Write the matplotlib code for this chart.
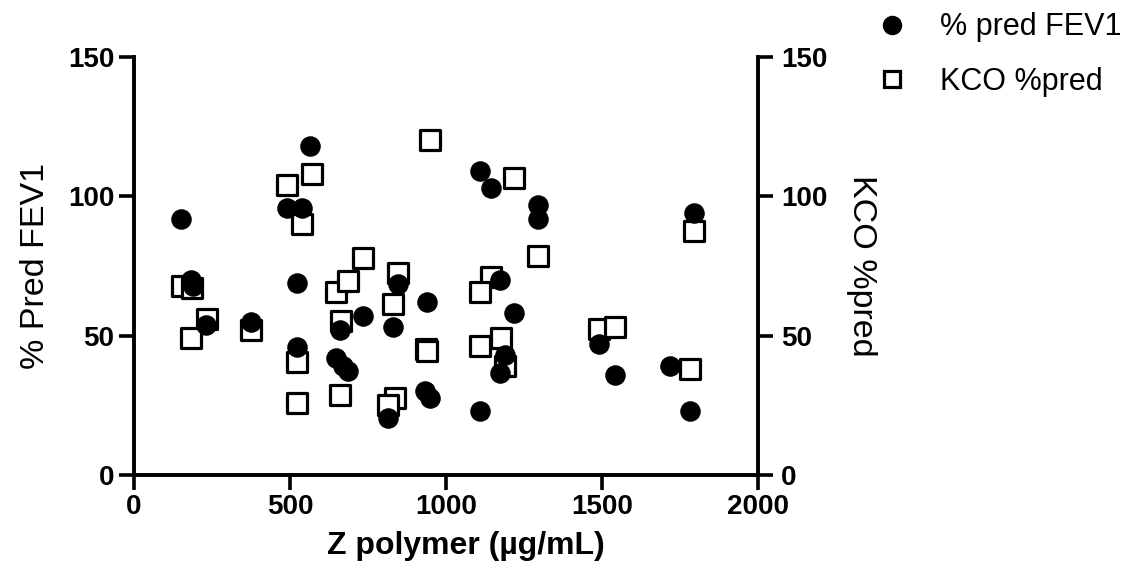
import matplotlib
matplotlib.use("Agg")
import matplotlib.pyplot as plt
from matplotlib.lines import Line2D

plt.rcParams['font.family'] = ['Liberation Sans', 'DejaVu Sans']

# % predicted FEV1 (left axis)
fev_x = [150, 182, 190, 230, 374, 489, 540, 565, 521, 521, 649, 661, 670, 687,
         735, 830, 847, 940, 933, 948, 815, 1109, 1144, 1294, 1294, 1173, 1217,
         1188, 1173, 1109, 1492, 1543, 1719, 1783, 1796]
fev_y = [92, 70, 68, 54, 55, 96, 96, 118, 69, 46, 42, 52, 39, 37.5,
         57, 53, 68.5, 62, 30, 27.5, 20.4, 109, 103, 97, 92, 70, 58,
         43, 36.5, 23, 47, 36, 39, 23, 94]

# KCO % predicted (right axis)
kco_x = [949, 569, 489, 537, 735, 1217, 1796, 1294, 153, 185, 233, 182, 374,
         521, 521, 649, 687, 665, 661, 847, 830, 936, 940, 836, 815, 1144,
         1109, 1109, 1176, 1188, 1492, 1543, 1783]
kco_y = [120.4, 108, 104, 90, 78, 106.5, 87.5, 78.5, 68, 67, 56, 49, 52,
         40.7, 25.7, 65.7, 69.6, 55.4, 28.6, 72.5, 61.4, 45.4, 44.5, 27.5, 25, 71,
         65.7, 46.4, 49, 39.3, 52.5, 53, 38]

fig = plt.figure(figsize=(11.45, 5.85), dpi=100)
ax = fig.add_axes([0.117, 0.188, 0.545, 0.7145])
ax2 = ax.twinx()

ax.scatter(fev_x, fev_y, s=190, marker='o', color='black', zorder=3, clip_on=False)
ax2.scatter(kco_x, kco_y, s=190, marker='s', facecolor='white', edgecolor='black',
            linewidth=2.3, zorder=2, clip_on=False)
ax.set_zorder(ax2.get_zorder() + 1)
ax.patch.set_visible(False)

for a in (ax, ax2):
    a.set_ylim(0, 150)
    a.set_yticks([0, 50, 100, 150])
    a.spines['top'].set_visible(False)
    for s in a.spines.values():
        s.set_linewidth(2.6)
    a.tick_params(width=2.6, length=10.5, labelsize=20, pad=3.5)
    for lab in a.get_yticklabels():
        lab.set_fontweight('bold')
ax2.tick_params(pad=6)

ax.set_xlim(0, 2000)
ax.set_xticks([0, 500, 1000, 1500, 2000])
for lab in ax.get_xticklabels():
    lab.set_fontweight('bold')

ax.set_xlabel('Z polymer (µg/mL)', fontsize=23, fontweight='bold', labelpad=5)
ax.xaxis.set_label_coords(0.532, -0.135)
ax.set_ylabel('% Pred FEV1', fontsize=24.5, labelpad=12)
ax2.set_ylabel('KCO %pred', fontsize=24.5, rotation=270, labelpad=36)

handles = [
    Line2D([], [], marker='o', linestyle='none', color='black', markersize=13),
    Line2D([], [], marker='s', linestyle='none', markerfacecolor='white',
           markeredgecolor='black', markeredgewidth=2.3, markersize=11.5),
]
fig.legend(handles, ['% pred FEV1', 'KCO %pred'], loc='upper left',
           bbox_to_anchor=(0.752, 1.005), frameon=False, fontsize=22,
           borderpad=0, handlelength=1.0, handletextpad=1.1, labelspacing=0.8)

fig.savefig('out.png', dpi=100)
